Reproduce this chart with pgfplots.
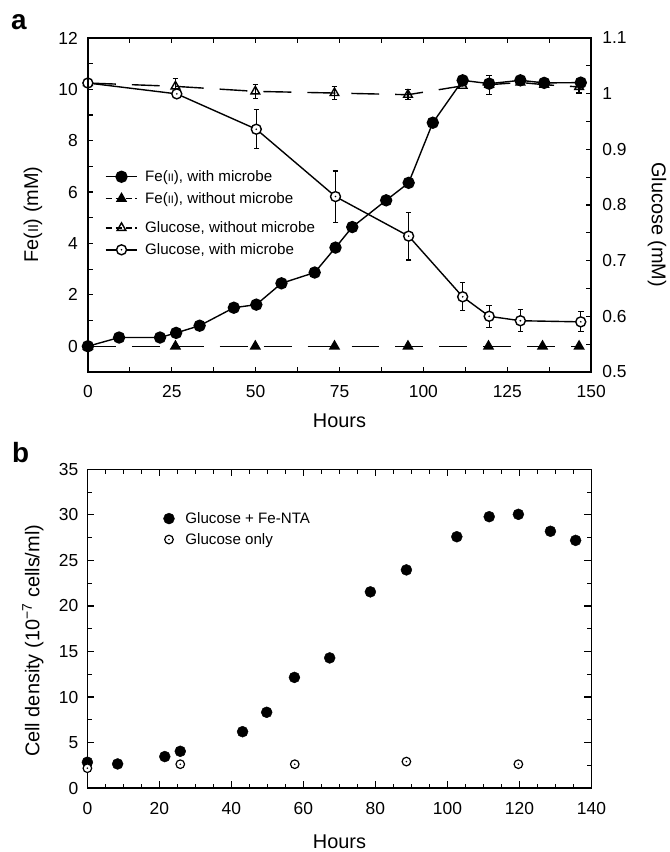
\documentclass[border=0pt]{standalone}
\usepackage{fontspec}
\setmainfont{Liberation Sans}
\usepackage{pgfplots}
\pgfplotsset{compat=1.18}

% open circle with a small centre dot
\pgfdeclareplotmark{odot}{%
  \pgfpathcircle{\pgfpointorigin}{\pgfplotmarksize}%
  \pgfusepathqfillstroke
  \begin{pgfscope}%
  \pgfsetfillcolor{black}%
  \pgfpathcircle{\pgfpointorigin}{0.9pt}%
  \pgfusepathqfill
  \end{pgfscope}%
}
\newcommand{\smII}{\scalebox{0.72}{II}}

\pgfplotsset{
  common/.style={
    scale only axis, clip=false,
    tick align=inside,
    axis line style={line width=1.4bp},
    every tick/.style={black, line width=1.2bp},
    /pgf/number format/assume math mode=true,
    tick label style={font=\fontsize{17.5}{19}\selectfont},
    label style={font=\fontsize{20}{22}\selectfont},
  },
  lineleg/.style={legend image code/.code={
    \path[draw=none, fill=none] (0bp,-6bp) rectangle (32bp,6bp);
    \draw[mark repeat=2,mark phase=2,##1] plot coordinates {(0bp,0bp)(16bp,0bp)(32bp,0bp)};}},
  dashleg/.style={legend image code/.code={
    \path[draw=none, fill=none] (0bp,-6bp) rectangle (32bp,6bp);
    \draw[mark repeat=2,mark phase=2,##1,dash pattern=on 6bp off 4bp] plot coordinates {(0bp,0bp)(16bp,0bp)(32bp,0bp)};}},
  dotleg/.style={legend image code/.code={
    \path[draw=none, fill=none] (0bp,-6bp) rectangle (11bp,6bp);
    \draw[##1] plot coordinates {(5.5bp,0bp)};}},
  ebar/.style={error bars/.cd, y dir=both, y explicit,
    error bar style={solid, line width=1.2bp},
    error mark options={solid, rotate=90, line width=1.2bp, mark size=2.8bp}},
  legstyle/.style={legend cell align=left,
    legend style={draw=none, fill=none, inner sep=0pt, outer sep=0pt,
      row sep=9.5bp, font=\fontsize{15.2}{16}\selectfont,
      nodes={inner sep=0pt},
      /tikz/every odd column/.append style={column sep=7bp}}},
}

\begin{document}
\begin{tikzpicture}[x=1bp,y=1bp]
\path (0,0) rectangle (669,852);

% ---------- panel a: glucose (right axis) ----------
\begin{axis}[common, legstyle,
  at={(88bp,479.5bp)}, anchor=south west,
  width=504bp, height=334.5bp,
  xmin=0, xmax=150, ymin=0.5, ymax=1.1,
  axis x line=none, axis y line*=right,
  ytick={0.5,0.6,0.7,0.8,0.9,1,1.1},
  minor y tick num=1,
  major tick length=5bp, minor tick length=5bp,
  yticklabel style={anchor=west, inner sep=0pt, xshift=11bp},
  ylabel={Glucose  (mM)},
  ylabel style={at={(axis description cs:1.131,0.441)}, anchor=center, rotate=180},
  legend style={at={(axis description cs:0.0337,0.45)}, anchor=north west},
]
\addplot[black, line width=1.4bp, dash pattern=on 28bp off 16bp,
  mark=triangle, mark size=5bp, mark options={solid, fill=white},
  dashleg, ebar] coordinates {
  (0,1.019) +- (0,0)
  (26.1,1.013) +- (0,0.014)
  (49.9,1.004) +- (0,0.013)
  (73.5,1.001) +- (0,0.012)
  (95.4,0.998) +- (0,0.009)
  (111.7,1.014) +- (0,0)
  (119.6,1.016) +- (0,0.017)
  (128.9,1.020) +- (0,0)
  (136,1.016) +- (0,0)
  (146.4,1.012) +- (0,0.011)
};
\addlegendentry{Glucose, without microbe}
\addplot[black, line width=1.4bp,
  mark=odot, mark size=5bp, mark options={solid, fill=white},
  lineleg, ebar] coordinates {
  (0,1.019) +- (0,0)
  (26.5,0.9995) +- (0,0)
  (50.2,0.936) +- (0,0.035)
  (73.8,0.815) +- (0,0.046)
  (95.6,0.744) +- (0,0.043)
  (111.7,0.635) +- (0,0.025)
  (119.6,0.600) +- (0,0.020)
  (128.9,0.592) +- (0,0.020)
  (146.9,0.590) +- (0,0.018)
};
\addlegendentry{Glucose, with microbe}
\end{axis}

% ---------- panel a: Fe(II) (left axis) ----------
\begin{axis}[common, legstyle, reverse legend,
  at={(88bp,479.5bp)}, anchor=south west,
  width=504bp, height=334.5bp,
  xmin=0, xmax=150, ymin=-1, ymax=12,
  xtick={0,25,...,150}, minor x tick num=1,
  ytick={0,2,...,12}, minor y tick num=1,
  ytick pos=left,
  major tick length=5bp, minor tick length=5bp,
  xticklabel style={anchor=center, inner sep=0pt, yshift=-19.5bp},
  yticklabel style={anchor=east, inner sep=0pt, xshift=-10bp},
  xlabel={Hours},
  xlabel style={at={(axis description cs:0.5,-0.145)}, anchor=center},
  ylabel={Fe(\smII)  (mM)},
  ylabel style={at={(axis description cs:-0.109,0.471)}, anchor=center},
  legend style={at={(axis description cs:0.0337,0.603)}, anchor=north west},
]
\addplot[black, line width=1.4bp, dash pattern=on 28bp off 16bp,
  mark=triangle*, mark size=5.2bp, mark options={solid},
  dashleg] coordinates {
  (0,0) (26.1,0) (49.9,0) (73.5,0) (95.4,0) (119.4,0) (135.5,0) (146.4,0)
};
\addlegendentry{Fe(\smII), without microbe}
\addplot[black, line width=1.4bp,
  mark=*, mark size=5.5bp, mark options={solid},
  lineleg] coordinates {
  (0,0) (9.3,0.34) (21.5,0.34) (26.3,0.52) (33.3,0.8) (43.5,1.5)
  (50.2,1.62) (57.7,2.45) (67.6,2.87) (73.8,3.84) (78.8,4.64)
  (88.9,5.68) (95.6,6.36) (102.8,8.7) (111.7,10.35) (119.6,10.22)
  (128.9,10.35) (136,10.25) (146.9,10.26)
};
\addlegendentry{Fe(\smII), with microbe}
\end{axis}

% ---------- panel b ----------
\begin{axis}[common, legstyle,
  at={(87.5bp,62.7bp)}, anchor=south west,
  width=504.8bp, height=319.3bp,
  xmin=0, xmax=140, ymin=0, ymax=35,
  xtick={0,20,...,140}, minor x tick num=3,
  ytick={0,5,...,35}, minor y tick num=1,
  major tick length=7bp, minor tick length=4.5bp,
  xticklabel style={anchor=center, inner sep=0pt, yshift=-20.7bp},
  yticklabel style={anchor=east, inner sep=0pt, xshift=-9bp},
  xlabel={Hours},
  xlabel style={at={(axis description cs:0.5,-0.168)}, anchor=center},
  ylabel={Cell density (10\textsuperscript{−7} cells/ml)},
  ylabel style={at={(axis description cs:-0.108,0.462)}, anchor=center},
  legend style={at={(axis description cs:0.151,0.865)}, anchor=north west,
    row sep=8.5bp, /tikz/every odd column/.append style={column sep=11bp}},
]
\addplot[black, only marks, mark=*, mark size=5.5bp, dotleg] coordinates {
  (0,2.85) (8.4,2.66) (21.5,3.47) (25.8,4.05) (43.1,6.2) (49.8,8.33)
  (57.5,12.16) (67.3,14.3) (78.6,21.55) (88.6,23.96) (102.6,27.6)
  (111.6,29.8) (119.7,30.06) (128.6,28.2) (135.6,27.2)
};
\addlegendentry{Glucose + Fe-NTA}
\addplot[black, only marks, mark=odot, mark size=4.3bp, line width=1.2bp,
  mark options={fill=white}, dotleg] coordinates {
  (0,2.19) (25.8,2.63) (57.6,2.63) (88.6,2.92) (119.7,2.63)
};
\addlegendentry{Glucose only}
\end{axis}

\node[anchor=base west, inner sep=0pt, font=\fontsize{28}{30}\selectfont\bfseries] at (11,822) {a};
\node[anchor=base west, inner sep=0pt, font=\fontsize{28}{30}\selectfont\bfseries] at (12,389) {b};
\end{tikzpicture}
\end{document}
